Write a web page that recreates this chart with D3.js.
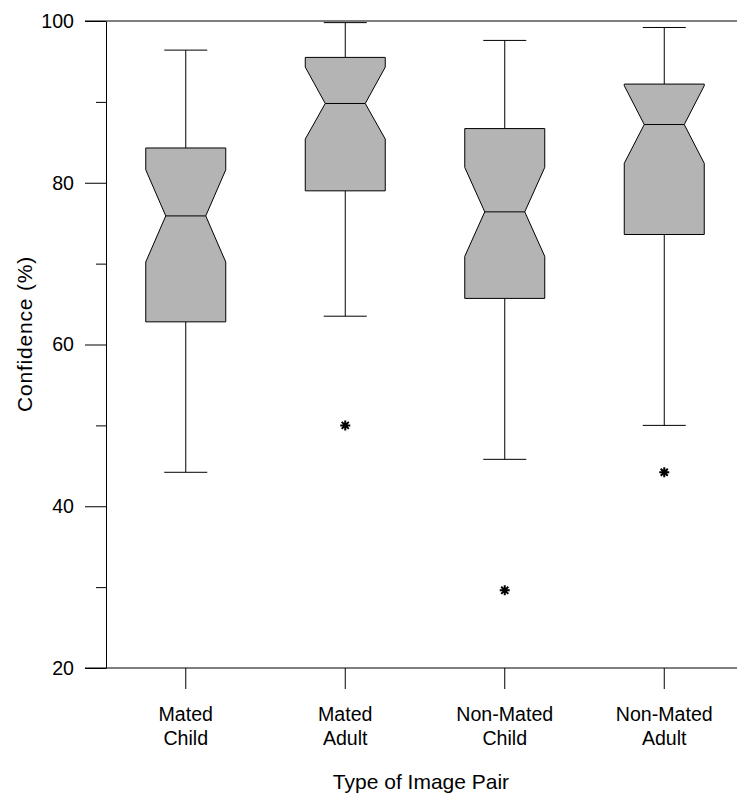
<!DOCTYPE html>
<html>
<head>
<meta charset="utf-8">
<script src="https://cdn.jsdelivr.net/npm/d3@7"></script>
<style>
  body { margin: 0; background: #fff; }
  svg { display: block; font-family: "Liberation Sans", Arial, sans-serif; }
</style>
</head>
<body>
<svg id="chart" width="737" height="794"></svg>
<script>
// box plot values (Confidence %)
const categories = [["Mated", "Child"], ["Mated", "Adult"], ["Non-Mated", "Child"], ["Non-Mated", "Adult"]];
const whiskerHigh = [96.4, 99.8, 97.6, 99.2];
const q3 = [84.3, 95.5, 86.7, 92.2];
const notchHigh = [81.6, 94.3, 81.9, 92.0];
const median = [75.9, 89.8, 76.4, 87.2];
const notchLow = [70.2, 85.4, 70.9, 82.4];
const q1 = [62.8, 79.0, 65.7, 73.6];
const whiskerLow = [44.2, 63.5, 45.8, 50.0];
const outliers = [[], [50.0], [29.6], [44.2]];
const majorTicks = [20, 40, 60, 80, 100];
const minorTicks = [30, 50, 70, 90];

const svg = d3.select('#chart');
const plotLeft = 106, plotTop = 21, plotRight = 744, plotBottom = 668;

const x = d3.scaleBand()
  .domain(d3.range(categories.length))
  .range([plotLeft, plotRight]);

const y = d3.scaleLinear()
  .domain([20, 100])
  .range([plotBottom, plotTop]);

const boxW = 80, notchW = 40, capW = 43;

// y axis
const yAxis = svg.append('g')
  .attr('transform', `translate(${plotLeft},0)`)
  .call(d3.axisLeft(y).tickValues(majorTicks).tickSize(21).tickPadding(11).tickSizeOuter(0));
yAxis.selectAll('text').attr('font-size', 19.6).attr('fill', '#000');
yAxis.selectAll('line, path').attr('stroke', '#000');
yAxis.attr('font-family', null);

svg.append('g')
  .attr('transform', `translate(${plotLeft},0)`)
  .call(d3.axisLeft(y).tickValues(minorTicks).tickSize(10).tickFormat('').tickSizeOuter(0))
  .call(g => g.select('.domain').remove())
  .selectAll('line').attr('stroke', '#000');

// top and bottom frame lines
svg.selectAll('line.frame')
  .data([100, 20])
  .join('line')
  .attr('class', 'frame')
  .attr('x1', plotLeft - 21).attr('x2', 737)
  .attr('y1', d => y(d)).attr('y2', d => y(d))
  .attr('stroke', '#000');

// x axis ticks and labels
const xAxis = svg.append('g')
  .attr('transform', `translate(0,${plotBottom})`)
  .call(d3.axisBottom(x).tickSize(21).tickFormat('').tickSizeOuter(0));
xAxis.select('.domain').remove();
xAxis.selectAll('line').attr('stroke', '#000');

const cx = i => x(i) + x.bandwidth() / 2;

svg.selectAll('text.xlab')
  .data(categories)
  .join('text')
  .attr('class', 'xlab')
  .attr('text-anchor', 'middle')
  .attr('font-size', 19.6)
  .attr('y', 721)
  .each(function (d, i) {
    d3.select(this).selectAll('tspan')
      .data(d)
      .join('tspan')
      .attr('x', cx(i))
      .attr('dy', (t, k) => k === 0 ? 0 : 24)
      .text(t => t);
  });

// axis titles
svg.append('text')
  .attr('x', 421).attr('y', 789)
  .attr('text-anchor', 'middle')
  .attr('font-size', 21)
  .text('Type of Image Pair');

svg.append('text')
  .attr('transform', 'translate(32,334) rotate(-90)')
  .attr('text-anchor', 'middle')
  .attr('font-size', 21)
  .attr('letter-spacing', 0.8)
  .text('Confidence (%)');

// boxes
const boxes = svg.append('g')
  .selectAll('g')
  .data(categories.map((c, i) => i))
  .join('g');

// whiskers
boxes.append('line')
  .attr('x1', cx).attr('x2', cx)
  .attr('y1', i => y(q3[i])).attr('y2', i => y(whiskerHigh[i]))
  .attr('stroke', '#000');
boxes.append('line')
  .attr('x1', cx).attr('x2', cx)
  .attr('y1', i => y(q1[i])).attr('y2', i => y(whiskerLow[i]))
  .attr('stroke', '#000');
boxes.append('line')
  .attr('x1', i => cx(i) - capW / 2).attr('x2', i => cx(i) + capW / 2)
  .attr('y1', i => y(whiskerHigh[i])).attr('y2', i => y(whiskerHigh[i]))
  .attr('stroke', '#000');
boxes.append('line')
  .attr('x1', i => cx(i) - capW / 2).attr('x2', i => cx(i) + capW / 2)
  .attr('y1', i => y(whiskerLow[i])).attr('y2', i => y(whiskerLow[i]))
  .attr('stroke', '#000');

// notched box outline
boxes.append('path')
  .attr('d', i => {
    const c = cx(i), bl = c - boxW / 2, br = c + boxW / 2, nl = c - notchW / 2, nr = c + notchW / 2;
    const pts = [
      [bl, y(q3[i])], [br, y(q3[i])], [br, y(notchHigh[i])], [nr, y(median[i])],
      [br, y(notchLow[i])], [br, y(q1[i])], [bl, y(q1[i])], [bl, y(notchLow[i])],
      [nl, y(median[i])], [bl, y(notchHigh[i])]
    ];
    return d3.line()(pts) + 'Z';
  })
  .attr('fill', '#b4b4b4')
  .attr('stroke', '#000');

boxes.append('line')
  .attr('x1', i => cx(i) - notchW / 2).attr('x2', i => cx(i) + notchW / 2)
  .attr('y1', i => y(median[i])).attr('y2', i => y(median[i]))
  .attr('stroke', '#000');

// outliers as asterisks
const asterisk = {
  draw(ctx) {
    const r = 5;
    for (let k = 0; k < 4; k++) {
      const a = k * Math.PI / 4;
      ctx.moveTo(-r * Math.cos(a), -r * Math.sin(a));
      ctx.lineTo(r * Math.cos(a), r * Math.sin(a));
    }
  }
};
boxes.selectAll('path.out')
  .data(i => outliers[i].map(v => [i, v]))
  .join('path')
  .attr('class', 'out')
  .attr('transform', d => `translate(${cx(d[0])},${y(d[1])})`)
  .attr('d', d3.symbol().type(asterisk)())
  .attr('stroke', '#000')
  .attr('stroke-width', 2)
  .attr('fill', 'none');
</script>
</body>
</html>
